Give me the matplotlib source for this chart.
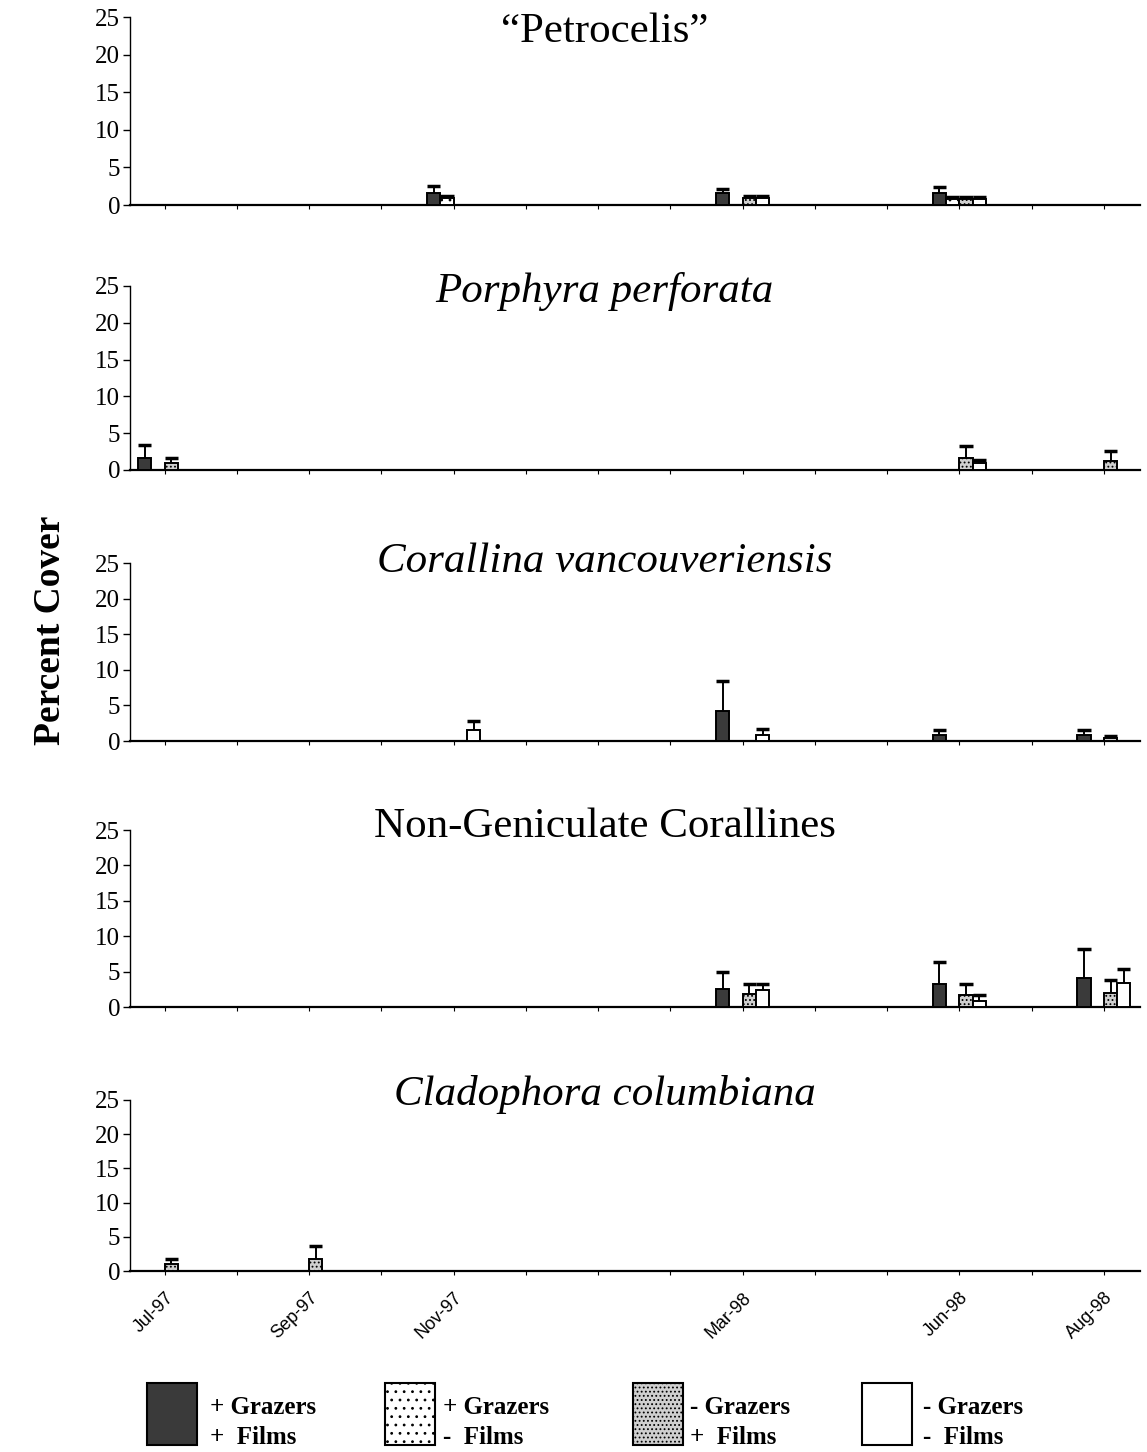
import numpy as np
import matplotlib
matplotlib.use("Agg")
import matplotlib.pyplot as plt
from matplotlib.patches import Rectangle

plt.rcParams['font.family'] = ['Liberation Serif', 'DejaVu Serif']
plt.rcParams['hatch.linewidth'] = 0.8

# sampling dates, as months after Jul-97
date_labels = ["Jul-97", "Sep-97", "Nov-97", "Mar-98", "Jun-98", "Aug-98"]
date_months = [0, 2, 4, 8, 11, 13]

treatments = ["+ Grazers\n+  Films", "+ Grazers\n-  Films",
              "- Grazers\n+  Films", "- Grazers\n-  Films"]

# mean percent cover per treatment (rows) and date (columns), with +1 SE
petro_mean = [[0, 0, 1.6, 1.6, 1.6, 0],
              [0, 0, 0.9, 0, 0.8, 0],
              [0, 0, 0, 0.9, 0.8, 0],
              [0, 0, 0, 0.9, 0.8, 0]]
petro_err = [[0, 0, 2.5, 2.1, 2.4, 0],
             [0, 0, 1.2, 0, 1.1, 0],
             [0, 0, 0, 1.2, 1.1, 0],
             [0, 0, 0, 1.2, 1.1, 0]]

porph_mean = [[1.6, 0, 0, 0, 0, 0],
              [0, 0, 0, 0, 0, 0],
              [0.9, 0, 0, 0, 1.6, 1.2],
              [0, 0, 0, 0, 1.0, 0]]
porph_err = [[3.4, 0, 0, 0, 0, 0],
             [0, 0, 0, 0, 0, 0],
             [1.6, 0, 0, 0, 3.3, 2.6],
             [0, 0, 0, 0, 1.4, 0]]

coral_mean = [[0, 0, 0, 4.2, 0.8, 0.9],
              [0, 0, 0, 0, 0, 0],
              [0, 0, 0, 0, 0, 0.4],
              [0, 0, 1.5, 0.8, 0, 0]]
coral_err = [[0, 0, 0, 8.4, 1.5, 1.5],
             [0, 0, 0, 0, 0, 0],
             [0, 0, 0, 0, 0, 0.7],
             [0, 0, 2.8, 1.7, 0, 0]]

nongen_mean = [[0, 0, 0, 2.6, 3.2, 4.1],
               [0, 0, 0, 0, 0, 0],
               [0, 0, 0, 1.8, 1.65, 2.0],
               [0, 0, 0, 2.4, 0.9, 3.4]]
nongen_err = [[0, 0, 0, 5.0, 6.4, 8.2],
              [0, 0, 0, 0, 0, 0],
              [0, 0, 0, 3.2, 3.2, 3.8],
              [0, 0, 0, 3.2, 1.7, 5.3]]

clado_mean = [[0, 0, 0, 0, 0, 0],
              [0, 0, 0, 0, 0, 0],
              [1.0, 1.7, 0, 0, 0, 0],
              [0, 0, 0, 0, 0, 0]]
clado_err = [[0, 0, 0, 0, 0, 0],
             [0, 0, 0, 0, 0, 0],
             [1.8, 3.7, 0, 0, 0, 0],
             [0, 0, 0, 0, 0, 0]]

# title, style, means, errors, title baseline (axes fraction)
panels = [
    ("\u201cPetrocelis\u201d", "normal", petro_mean, petro_err, 0.867),
    ("Porphyra perforata", "italic", porph_mean, porph_err, 0.913),
    ("Corallina vancouveriensis", "italic", coral_mean, coral_err, 0.949),
    ("Non-Geniculate Corallines", "normal", nongen_mean, nongen_err, 0.96),
    ("Cladophora columbiana", "italic", clado_mean, clado_err, 0.97),
]

# bar styles for the four treatments
faces = ["#3a3a3a", "white", "#cfcfcf", "white"]
hatches = [None, "..", "....", None]

W, H = 1147, 1452
fig = plt.figure(figsize=(W / 100, H / 100), dpi=100)

# axes boxes in pixels (top, bottom)
boxes = [(17, 205), (286, 470), (563, 741), (830, 1007), (1100, 1271)]
left_px, right_px = 130, 1140

bar_w = 0.184
x = np.array(date_months, dtype=float)

for i, (title, style, means, errs, ty) in enumerate(panels):
    top, bot = boxes[i]
    ax = fig.add_axes([left_px / W, 1 - bot / H, (right_px - left_px) / W, (bot - top) / H])
    for k in range(4):
        xs = x + (k - 1.5) * bar_w
        m = np.array(means[k], dtype=float)
        e = np.array(errs[k], dtype=float)
        keep = m > 0
        ax.bar(xs[keep], m[keep], width=bar_w, color=faces[k], hatch=hatches[k],
               edgecolor="black", linewidth=1.4, zorder=3)
        ek = e > 0
        if ek.any():
            # upper error bar only, with a cap as wide as the bar
            ax.vlines(xs[ek], m[ek], e[ek], color="black", linewidth=1.4, zorder=2)
            ax.hlines(e[ek], xs[ek] - bar_w * 0.5, xs[ek] + bar_w * 0.5,
                      color="black", linewidth=2.5, zorder=2)

    ax.set_xlim(-0.48, 13.5)
    ax.set_ylim(0, 25)
    ax.set_yticks([0, 5, 10, 15, 20, 25])
    ax.tick_params(axis="y", direction="out", length=5, width=1, labelsize=18, pad=2)
    ax.set_xticks(np.arange(0, 14))
    ax.tick_params(axis="x", direction="out", length=3, width=0.8)
    ax.set_xticklabels([])
    for s in ["top", "right"]:
        ax.spines[s].set_visible(False)
    ax.spines["left"].set_linewidth(1.0)
    ax.spines["bottom"].set_linewidth(1.6)
    ax.text(0.47, ty, title, transform=ax.transAxes, ha="center", va="baseline",
            fontsize=31, fontstyle=style)

    if i == len(panels) - 1:
        ax.set_xticks(x)
        ax.set_xticks(np.arange(0, 14), minor=True)
        ax.tick_params(axis="x", which="minor", direction="out", length=3, width=0.8)
        ax.set_xticklabels(date_labels, rotation=45, ha="right", va="top",
                           rotation_mode="anchor", fontsize=13,
                           family="Liberation Sans")
        ax.tick_params(axis="x", which="major", pad=10)

fig.text(0.044, 0.566, "Percent Cover", rotation=90, ha="center", va="center",
         fontsize=27, fontweight="bold")

# legend row drawn in pixel space
leg = fig.add_axes([0, 0, 1, 1])
leg.set_xlim(0, W)
leg.set_ylim(H, 0)
leg.axis("off")
leg.patch.set_alpha(0)
sw_x = [147, 385, 633, 862]
txt_x = [210, 443, 690, 923]
for k in range(4):
    leg.add_patch(Rectangle((sw_x[k], 1383), 50, 62, facecolor=faces[k],
                            hatch=hatches[k], edgecolor="black", linewidth=1.5))
    l1, l2 = treatments[k].split("\n")
    leg.text(txt_x[k], 1408, l1, ha="left", va="center", fontsize=18, fontweight="bold")
    leg.text(txt_x[k], 1438, l2, ha="left", va="center", fontsize=18, fontweight="bold")

fig.savefig("out.png", dpi=100)
